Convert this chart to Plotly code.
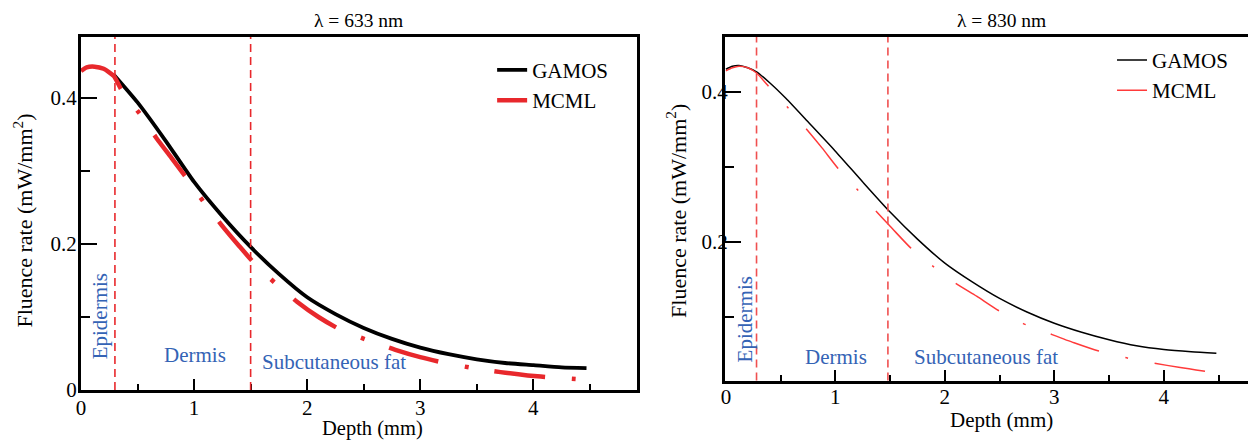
import plotly.graph_objects as go

# ---------------- data ----------------
# lambda = 633 nm
gamos633_x = [0.29, 0.50, 0.75, 1.00, 1.25, 1.50, 1.75, 2.00, 2.25, 2.50, 2.75, 3.00, 3.25, 3.50, 3.75, 4.00, 4.25, 4.47]
gamos633_y = [0.432, 0.394, 0.341, 0.285, 0.238, 0.196, 0.159, 0.127, 0.104, 0.085, 0.070, 0.058, 0.049, 0.042, 0.037,
              0.034, 0.031, 0.030]
mcml633_x = [0.0, 0.05, 0.12, 0.20, 0.29, 0.355, 0.536, 0.663, 0.80, 0.935, 1.087, 1.243, 1.40, 1.53, 1.72, 1.91,
             2.10, 2.29, 2.54, 2.78, 3.00, 3.22, 3.47, 3.71, 3.95, 4.18, 4.42]
mcml633_y = [0.437, 0.442, 0.443, 0.440, 0.430, 0.412, 0.375, 0.346, 0.318, 0.290, 0.257, 0.226, 0.197, 0.174, 0.146,
             0.121, 0.100, 0.083, 0.068, 0.055, 0.045, 0.037, 0.030, 0.0245, 0.020, 0.017, 0.0145]

# lambda = 830 nm
gamos830_x = [0.0, 0.06, 0.12, 0.20, 0.28, 0.40, 0.55, 0.75, 1.00, 1.25, 1.50, 1.75, 2.00, 2.25, 2.50, 2.75, 3.00, 3.25,
              3.50, 3.75, 4.00, 4.25, 4.48]
gamos830_y = [0.430, 0.434, 0.435, 0.432, 0.4265, 0.412, 0.391, 0.360, 0.321, 0.280, 0.240, 0.204, 0.172, 0.147, 0.125,
              0.107, 0.092, 0.080, 0.070, 0.062, 0.057, 0.054, 0.052]
mcml830_x = [0.0, 0.06, 0.12, 0.20, 0.28, 0.38, 0.56, 0.727, 0.88, 1.025, 1.194, 1.36, 1.52, 1.69, 1.89, 2.09, 2.29, 2.49,
             2.716, 2.96, 3.18, 3.406, 3.66, 3.91, 4.15, 4.38]
mcml830_y = [0.428, 0.432, 0.434, 0.432, 0.425, 0.409, 0.380, 0.352, 0.325, 0.298, 0.271, 0.243, 0.218, 0.192, 0.168,
             0.146, 0.128, 0.109, 0.0916, 0.078, 0.066, 0.055, 0.046, 0.039, 0.033, 0.028]

# layer boundaries (mm) as drawn in each panel
boundaries633 = [0.3, 1.5]
boundaries830 = [0.28, 1.48]

layer_names = ["Epidermis", "Dermis", "Subcutaneous fat"]
panel_titles = ["λ = 633 nm", "λ = 830 nm"]
series_names = ["GAMOS", "MCML"]
x_title = "Depth (mm)"
y_title = "Fluence rate (mW/mm<sup>2</sup>)"

x_ticks = [0, 1, 2, 3, 4]
y_ticks = [0, 0.2, 0.4]
y_tick_labels = ["0", "0.2", "0.4"]

# ---------------- style / geometry ----------------
# The page body adds an 8 px margin, so the figure is 8 px smaller than the window.
OFF = 8
W, H = 1256 - OFF, 440 - OFF
PLOT_LEFT_REF, PLOT_TOP_REF, PLOT_BOTTOM_REF = 80.8, 37.2, 390.2     # positions in window pixels
ML = PLOT_LEFT_REF - OFF
MT = PLOT_TOP_REF - OFF
MB = H - (PLOT_BOTTOM_REF - OFF)
MR = 0
PW = W - ML - MR
PH = H - MT - MB

FONT = "Liberation Serif"
BLUE = "#3463b5"
RED_L = "#e8282c"
RED_R = "#ff3a3a"
DASH_PATTERN = "51px,27px,4px,26px"
DASH_PATTERN_R = "51px,27px,3px,27px"


def px_x(p):
    """window x pixel -> paper fraction"""
    return (p - PLOT_LEFT_REF) / PW


def px_y(p):
    """window y pixel -> paper fraction"""
    return (PLOT_BOTTOM_REF - p) / PH


fig = go.Figure()

fig.add_trace(go.Scatter(x=gamos633_x, y=gamos633_y, mode="lines", name=series_names[0],
                         line=dict(color="black", width=3.8, shape="spline", smoothing=0.6),
                         xaxis="x", yaxis="y", legend="legend"))
fig.add_trace(go.Scatter(x=mcml633_x, y=mcml633_y, mode="lines", name=series_names[1],
                         line=dict(color=RED_L, width=4.5, dash=DASH_PATTERN, shape="spline", smoothing=0.6),
                         xaxis="x", yaxis="y", legend="legend"))
fig.add_trace(go.Scatter(x=gamos830_x, y=gamos830_y, mode="lines", name=series_names[0],
                         line=dict(color="black", width=1.5, shape="spline", smoothing=0.6),
                         xaxis="x2", yaxis="y2", legend="legend2"))
fig.add_trace(go.Scatter(x=mcml830_x, y=mcml830_y, mode="lines", name=series_names[1],
                         line=dict(color=RED_R, width=1.5, dash=DASH_PATTERN_R, shape="spline", smoothing=0.6),
                         xaxis="x2", yaxis="y2", legend="legend2"))

tickfont = dict(family=FONT, size=21, color="black")


def xax(domain, rng, anchor, label_standoff):
    return dict(domain=domain, range=rng, anchor=anchor, automargin=False,
                showline=True, linewidth=3, linecolor="black", mirror=True,
                ticks="inside", ticklen=11, tickwidth=2, tickcolor="black", tickvals=x_ticks,
                minor=dict(dtick=0.5, ticks="inside", ticklen=6, tickwidth=2, tickcolor="black"),
                showgrid=False, zeroline=False, tickfont=tickfont, ticklabelstandoff=label_standoff)


def yax(domain, rng, anchor, label_standoff):
    return dict(domain=domain, range=rng, anchor=anchor, automargin=False,
                showline=True, linewidth=3, linecolor="black", mirror=True,
                ticks="inside", ticklen=16, tickwidth=2, tickcolor="black",
                tickvals=y_ticks, ticktext=y_tick_labels,
                minor=dict(dtick=0.1, ticks="inside", ticklen=9, tickwidth=2, tickcolor="black"),
                showgrid=False, zeroline=False, tickfont=tickfont, ticklabelstandoff=label_standoff)


fig.update_layout(
    width=W, height=H,
    margin=dict(l=ML, r=MR, t=MT, b=MB, pad=0, autoexpand=False),
    paper_bgcolor="white", plot_bgcolor="white",
    font=dict(family=FONT, color="black"),
    xaxis=xax([0, px_x(636.5)], [0, 4.913], "y", -3),
    yaxis=yax([0, 1], [0, 0.4836], "x", -3),
    xaxis2=xax([px_x(724.8), 1.0], [-0.009, 4.842], "y2", -5),
    yaxis2=yax([px_y(380.8), 1], [0.0157, 0.4729], "x2", -10),
    legend=dict(x=px_x(492), y=px_y(50), xanchor="left", yanchor="top", bgcolor="rgba(0,0,0,0)",
                font=dict(family=FONT, size=21, color="black"), itemwidth=30, tracegroupgap=0),
    legend2=dict(x=px_x(1112), y=px_y(40), xanchor="left", yanchor="top", bgcolor="rgba(0,0,0,0)",
                 font=dict(family=FONT, size=21, color="black"), itemwidth=30, tracegroupgap=0),
    showlegend=True,
)

# layer boundaries
for b in boundaries633:
    fig.add_shape(type="line", xref="x", yref="y domain", x0=b, x1=b, y0=0, y1=1,
                  line=dict(color=RED_L, width=1.6, dash="8px,5px"))
for b in boundaries830:
    fig.add_shape(type="line", xref="x2", yref="y2 domain", x0=b, x1=b, y0=0, y1=1,
                  line=dict(color="#f05050", width=1.6, dash="8px,5px"))

# layer labels
label_pos633 = [(0.176, 0.1008, -90), (1.005, 0.048, 0), (2.234, 0.039, 0)]
label_pos830 = [(0.171, 0.0966, -90), (1.008, 0.0474, 0), (2.38, 0.0474, 0)]
for (lx, ly, ang), name in zip(label_pos633, layer_names):
    fig.add_annotation(x=lx, y=ly, xref="x", yref="y", text=name, showarrow=False, textangle=ang,
                       font=dict(family=FONT, size=21, color=BLUE), xanchor="center", yanchor="middle")
for (lx, ly, ang), name in zip(label_pos830, layer_names):
    fig.add_annotation(x=lx, y=ly, xref="x2", yref="y2", text=name, showarrow=False, textangle=ang,
                       font=dict(family=FONT, size=21, color=BLUE), xanchor="center", yanchor="middle")

# panel titles and axis titles (window pixel centres)
text_items = [
    (panel_titles[0], 358, 21, 0, 19.5),
    (panel_titles[1], 1001.5, 21, 0, 19.5),
    (x_title, 372, 428.5, 0, 20.5),
    (x_title, 1001.5, 420, 0, 21),
    (y_title, 22.6, 221, -90, 22),
    (y_title, 676, 211, -90, 22),
]
for txt, cx, cy, ang, fs in text_items:
    fig.add_annotation(x=px_x(cx), y=px_y(cy), xref="paper", yref="paper", text=txt, showarrow=False,
                       textangle=ang, font=dict(family=FONT, size=fs, color="black"),
                       xanchor="center", yanchor="middle")

fig.write_html("out.html")
